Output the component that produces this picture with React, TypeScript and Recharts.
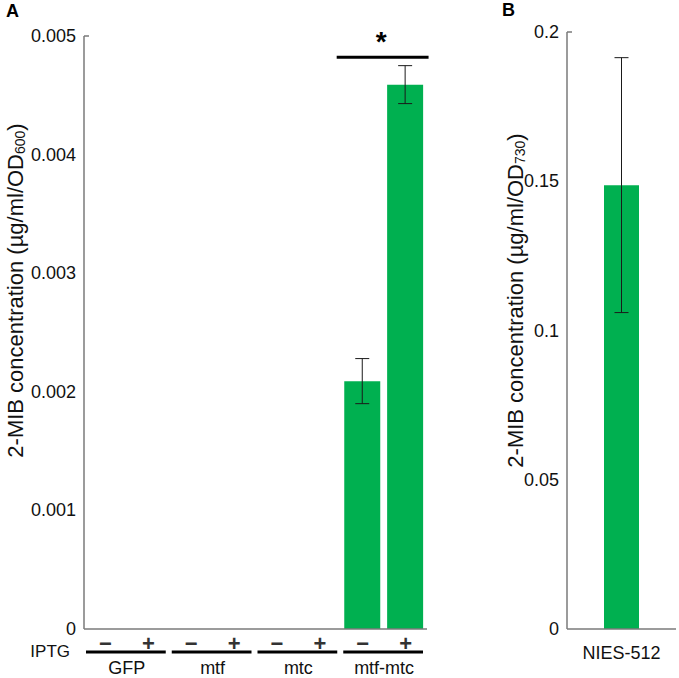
import React from 'react';
import { BarChart, Bar, XAxis, YAxis, ErrorBar, ReferenceLine } from 'recharts';

// Panel A: 2-MIB in E. coli, per strain and IPTG induction
const groups = ['GFP', 'mtf', 'mtc', 'mtf-mtc'];
const iptgSigns = ['−', '+'];
const concA = [0, 0, 0, 0, 0, 0, 0.00209, 0.00459];
const errA = [0, 0, 0, 0, 0, 0, 0.00019, 0.00016];
const ticksA = [0, 0.001, 0.002, 0.003, 0.004, 0.005];
const sigLevelA = 0.00482;

// Panel B: cyanobacterium NIES-512
const strainsB = ['NIES-512'];
const concB = [0.1487];
const errB = [0.0427];
const ticksB = [0, 0.05, 0.1, 0.15, 0.2];

const dataA = groups.flatMap((g, gi) =>
  iptgSigns.map((s, si) => ({
    id: `${g} ${s}`,
    conc: concA[gi * 2 + si],
    err: errA[gi * 2 + si],
  }))
);

const dataB = strainsB.map((name, i) => ({ name, conc: concB[i], err: errB[i] }));

const GREEN = '#00B050';
const AXIS = '#7a7a7a';
const FONT = '"Liberation Sans", Arial, sans-serif';

const makeYTick = (max: number) => (props: any) => {
  const { x, y, payload } = props;
  return (
    <g>
      {payload.value === max && (
        <line x1={x} x2={x + 5} y1={y} y2={y} stroke={AXIS} strokeWidth={1.5} />
      )}
      <text x={x - 8} y={y} textAnchor="end" dominantBaseline="central" fontSize={18} fill="#111">
        {String(payload.value)}
      </text>
    </g>
  );
};

const SignTick = (props: any) => {
  const { x, y, payload, index } = props;
  const half = payload.offset ?? 21.4;
  const id = String(payload.value);
  const sign = id.slice(-1);
  const group = id.slice(0, -2);
  return (
    <g>
      <text x={x} y={y + 14} textAnchor="middle" dominantBaseline="central" fontSize={22} fontWeight="bold" fill="#333">
        {sign}
      </text>
      {sign === '+' && (
        <>
          <line x1={x - 3 * half + 2} x2={x + half - 4} y1={y + 23} y2={y + 23} stroke="#000" strokeWidth={3} />
          <text x={x - half} y={y + 39} textAnchor="middle" dominantBaseline="central" fontSize={18} fill="#111">
            {group}
          </text>
        </>
      )}
      {index === 0 && (
        <text x={x - half - 14} y={y + 22} textAnchor="end" dominantBaseline="central" fontSize={17} fill="#111">
          IPTG
        </text>
      )}
    </g>
  );
};

const NameTick = (props: any) => {
  const { x, y, payload } = props;
  return (
    <text x={x} y={y + 24} textAnchor="middle" dominantBaseline="central" fontSize={18} fill="#111">
      {payload.value}
    </text>
  );
};

const AxisTitle = (props: any) => {
  const { viewBox, dx, dy, sub } = props;
  const cx = viewBox.x + dx;
  const cy = viewBox.y + viewBox.height / 2 + dy;
  return (
    <text
      x={cx}
      y={cy}
      transform={`rotate(-90, ${cx}, ${cy})`}
      textAnchor="middle"
      dominantBaseline="central"
      fontSize={22}
      fill="#111"
    >
      2-MIB concentration (µg/ml/OD
      <tspan fontSize={14} dy={5}>{sub}</tspan>
      <tspan dy={-5}>)</tspan>
    </text>
  );
};

// significance bracket, stretched past the two band centres
const SigBracket = (props: any) => {
  const { x1, x2, y1 } = props;
  return (
    <g>
      <line x1={x1 - 26} x2={x2 + 23} y1={y1} y2={y1} stroke="#000" strokeWidth={3} />
      <text x={(x1 + x2) / 2 - 3} y={y1 - 6} textAnchor="middle" fontSize={28} fontWeight="bold" fill="#000">
        *
      </text>
    </g>
  );
};

const App: React.FC = () => {
  return (
    <div style={{ position: 'absolute', left: 0, top: 0, width: 679, height: 678, background: '#fff', fontFamily: FONT }}>
      <div style={{ position: 'absolute', left: 6, top: 2, fontSize: 18, fontWeight: 'bold', lineHeight: 1 }}>A</div>
      <div style={{ position: 'absolute', left: 502, top: 1, fontSize: 18, fontWeight: 'bold', lineHeight: 1 }}>B</div>

      <div style={{ position: 'absolute', left: 0, top: 0 }}>
        <BarChart width={440} height={678} data={dataA} margin={{ top: 36, right: 13, left: 24, bottom: 0 }}>
          <XAxis
            dataKey="id"
            interval={0}
            height={49}
            tickSize={0}
            tickMargin={0}
            tickLine={false}
            axisLine={{ stroke: AXIS, strokeWidth: 1.5 }}
            tick={SignTick}
          />
          <YAxis
            type="number"
            domain={[0, 0.005]}
            ticks={ticksA}
            interval={0}
            width={60}
            tickSize={0}
            tickMargin={0}
            tickLine={false}
            axisLine={{ stroke: AXIS, strokeWidth: 1.5 }}
            tick={makeYTick(0.005)}
            label={(p: any) => <AxisTitle {...p} dx={-9} dy={-42} sub="600" />}
          />
          <ReferenceLine
            segment={[
              { x: 'mtf-mtc −', y: sigLevelA },
              { x: 'mtf-mtc +', y: sigLevelA },
            ]}
            shape={SigBracket}
          />
          <Bar dataKey="conc" fill={GREEN} barSize={36} isAnimationActive={false}>
            <ErrorBar dataKey="err" width={7} stroke="#1a1a1a" strokeWidth={1} direction="y" />
          </Bar>
        </BarChart>
      </div>

      <div style={{ position: 'absolute', left: 480, top: 0 }}>
        <BarChart width={199} height={678} data={dataB} margin={{ top: 32, right: 3, left: 27, bottom: 0 }}>
          <XAxis
            dataKey="name"
            interval={0}
            height={49}
            tickSize={0}
            tickMargin={0}
            tickLine={false}
            axisLine={{ stroke: AXIS, strokeWidth: 1.5 }}
            tick={NameTick}
          />
          <YAxis
            type="number"
            domain={[0, 0.2]}
            ticks={ticksB}
            interval={0}
            width={60}
            tickSize={0}
            tickMargin={0}
            tickLine={false}
            axisLine={{ stroke: AXIS, strokeWidth: 1.5 }}
            tick={makeYTick(0.2)}
            label={(p: any) => <AxisTitle {...p} dx={8} dy={-30} sub="730" />}
          />
          <Bar dataKey="conc" fill={GREEN} barSize={35} isAnimationActive={false}>
            <ErrorBar dataKey="err" width={7} stroke="#1a1a1a" strokeWidth={1} direction="y" />
          </Bar>
        </BarChart>
      </div>
    </div>
  );
};

export default App;
